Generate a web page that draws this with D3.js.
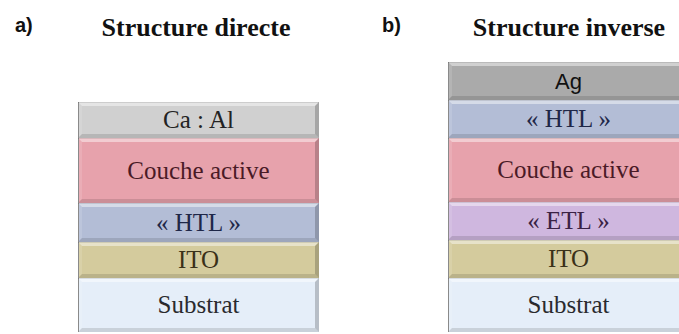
<!DOCTYPE html>
<html>
<head>
<meta charset="utf-8">
<script src="https://cdn.jsdelivr.net/npm/d3@7"></script>
<style>
  html, body { margin: 0; padding: 0; background: #ffffff; }
  svg { display: block; }
</style>
</head>
<body>
<svg id="chart" width="679" height="334"></svg>
<script>
// ---- data (bottom to top), thickness in arbitrary units ----
const panels = ["a)", "b)"];
const titles = ["Structure directe", "Structure inverse"];
const directLayers = ["Substrat", "ITO", "« HTL »", "Couche active", "Ca : Al"];
const directThickness = [54, 36, 39, 65, 36];
const inverseLayers = ["Substrat", "ITO", "« ETL »", "Couche active", "« HTL »", "Ag"];
const inverseThickness = [54, 38, 38, 64, 38, 38];

// ---- styles ----
const fillColor = d3.scaleOrdinal()
  .domain(["Substrat", "ITO", "« HTL »", "« ETL »", "Couche active", "Ca : Al", "Ag"])
  .range(["#e5eef9", "#d4cb9d", "#b3bdd6", "#cfb7df", "#e7a2ac", "#d0d0d0", "#aaaaaa"]);
const textColor = d3.scaleOrdinal()
  .domain(["Substrat", "ITO", "« HTL »", "« ETL »", "Couche active", "Ca : Al", "Ag"])
  .range(["#2a2a2e", "#3a3118", "#1e2748", "#3a2244", "#4a1a26", "#222222", "#111111"]);

const svg = d3.select("#chart");

// shared vertical scale: units -> pixels
const totalMax = d3.max([d3.sum(directThickness), d3.sum(inverseThickness)]);
const y = d3.scaleLinear().domain([0, totalMax]).range([332, 62]);

// horizontal band scale for the two stacks
const x = d3.scaleBand().domain(panels).range([78, 78 + 2 * 370]).paddingInner(0.0);
const stackWidth = 241;

function drawStack(panel, names, thick) {
  const x0 = x(panel);
  const cum = d3.cumsum(thick);
  const layers = names.map((n, i) => ({ name: n, y0: i === 0 ? 0 : cum[i - 1], y1: cum[i] }));
  const g = svg.append("g");
  const b = 4;
  layers.forEach(d => {
    const top = y(d.y1), bot = y(d.y0);
    const h = bot - top, w = stackWidth;
    const lg = g.append("g");
    lg.append("rect").attr("x", x0).attr("y", top).attr("width", w).attr("height", h)
      .attr("fill", fillColor(d.name));
    // bevel: top highlight
    lg.append("path").attr("d", `M${x0},${top}L${x0 + w},${top}L${x0 + w - b},${top + b}L${x0 + b},${top + b}Z`)
      .attr("fill", "#ffffff").attr("opacity", 0.45);
    // left
    lg.append("path").attr("d", `M${x0},${top}L${x0 + b},${top + b}L${x0 + b},${bot - b}L${x0},${bot}Z`)
      .attr("fill", "#ffffff").attr("opacity", 0.12);
    // right
    lg.append("path").attr("d", `M${x0 + w},${top}L${x0 + w},${bot}L${x0 + w - b},${bot - b}L${x0 + w - b},${top + b}Z`)
      .attr("fill", "#000000").attr("opacity", 0.2);
    // bottom
    lg.append("path").attr("d", `M${x0},${bot}L${x0 + w},${bot}L${x0 + w - b},${bot - b}L${x0 + b},${bot - b}Z`)
      .attr("fill", "#000000").attr("opacity", 0.12);
    // outline
    lg.append("line").attr("x1", x0 + 0.5).attr("x2", x0 + 0.5).attr("y1", top).attr("y2", bot)
      .attr("stroke", "#8a8a8a").attr("stroke-width", 1);
    lg.append("line").attr("x1", x0).attr("x2", x0 + w).attr("y1", top + 0.5).attr("y2", top + 0.5)
      .attr("stroke", "#000").attr("stroke-opacity", 0.1).attr("stroke-width", 1);
    const isSans = d.name === "Ag";
    lg.append("text")
      .attr("x", x0 + w / 2)
      .attr("y", (top + bot) / 2 + 8)
      .attr("text-anchor", "middle")
      .attr("font-family", isSans ? "'Liberation Sans', Arial, sans-serif" : "'Liberation Serif', 'Times New Roman', serif")
      .attr("font-size", isSans ? 22 : 25)
      .attr("fill", textColor(d.name))
      .text(d.name);
  });
}

drawStack("a)", directLayers, directThickness);
drawStack("b)", inverseLayers, inverseThickness);

// panel letters
svg.selectAll(".panel").data(panels).enter().append("text")
  .attr("class", "panel")
  .attr("x", (d, i) => i === 0 ? 15 : 382)
  .attr("y", 32)
  .attr("font-family", "'Liberation Sans', Arial, sans-serif")
  .attr("font-weight", "bold")
  .attr("font-size", 20)
  .attr("fill", "#111")
  .text(d => d);

// titles
svg.selectAll(".title").data(titles).enter().append("text")
  .attr("class", "title")
  .attr("x", (d, i) => i === 0 ? 196 : 569)
  .attr("y", 36)
  .attr("text-anchor", "middle")
  .attr("font-family", "'Liberation Serif', 'Times New Roman', serif")
  .attr("font-weight", "bold")
  .attr("font-size", 26)
  .attr("fill", "#111")
  .text(d => d);
</script>
</body>
</html>
